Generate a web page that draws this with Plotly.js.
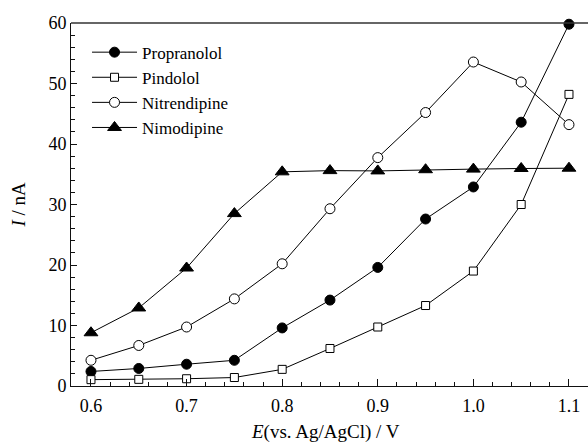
<!DOCTYPE html>
<html>
<head>
<meta charset="utf-8">
<script src="https://cdn.plot.ly/plotly-3.0.1.min.js"></script>
<style>html,body{margin:0;padding:0;background:#fff;}#chart{width:588px;height:444px;}</style>
</head>
<body>
<div id="chart"></div>
<script>
const potential = [0.6, 0.65, 0.7, 0.75, 0.8, 0.85, 0.9, 0.95, 1.0, 1.05, 1.1];
const propranolol = [2.4, 2.9, 3.6, 4.25, 9.6, 14.2, 19.6, 27.6, 32.9, 43.6, 59.8];
const pindolol = [1.05, 1.1, 1.2, 1.4, 2.75, 6.2, 9.75, 13.3, 19.0, 30.0, 48.2];
const nitrendipine = [4.25, 6.7, 9.75, 14.4, 20.2, 29.3, 37.75, 45.2, 53.55, 50.25, 43.2];
const nimodipine = [8.8, 12.9, 19.5, 28.5, 35.4, 35.6, 35.55, 35.75, 35.85, 35.95, 36.0];
const seriesNames = ["Propranolol", "Pindolol", "Nitrendipine", "Nimodipine"];
const xTickVals = [0.6, 0.7, 0.8, 0.9, 1.0, 1.1];
const xTickText = ["0.6", "0.7", "0.8", "0.9", "1.0", "1.1"];
const yTickVals = [0, 10, 20, 30, 40, 50, 60];
const xTitle = "<i>E</i>(vs. Ag/AgCl) / V";
const yTitle = "<i>I</i> / nA";

const FONT = "'Liberation Serif', 'Times New Roman', serif";

function tr(name, y, symbol, fill, size) {
  return {
    x: potential, y: y, name: name, type: "scatter", mode: "lines+markers",
    line: {color: "#000", width: 1},
    marker: {symbol: symbol, size: size, color: fill, line: {color: "#000", width: 1}},
    cliponaxis: false
  };
}
const data = [
  tr(seriesNames[0], propranolol, "circle", "#000", 10),
  tr(seriesNames[1], pindolol, "square", "#fff", 8),
  tr(seriesNames[2], nitrendipine, "circle", "#fff", 10),
  tr(seriesNames[3], nimodipine, "triangle-up", "#000", 12)
];
const layout = {
  width: 588, height: 444,
  margin: {l: 71, r: 0, t: 23, b: 58},
  paper_bgcolor: "#fff", plot_bgcolor: "#fff",
  font: {family: FONT, size: 18, color: "#000"},
  showlegend: true,
  legend: {x: 0.031, y: 0.968, xanchor: "left", yanchor: "top", itemwidth: 45,
           font: {family: FONT, size: 17, color: "#000"}, bgcolor: "rgba(0,0,0,0)"},
  xaxis: {
    range: [0.5791, 1.1199], showgrid: false, zeroline: false,
    showline: true, linecolor: "#111", linewidth: 1,
    ticks: "inside", ticklen: 7, tickwidth: 1, tickcolor: "#111",
    tickvals: xTickVals, ticktext: xTickText, ticklabelstandoff: 3,
    minor: {dtick: 0.02, ticks: "inside", ticklen: 4, tickcolor: "#111", tickwidth: 1},
    tickfont: {family: FONT, size: 18}
  },
  yaxis: {
    range: [0, 60], showgrid: false, zeroline: false,
    showline: true, linecolor: "#111", linewidth: 1,
    ticks: "inside", ticklen: 6, tickwidth: 1, tickcolor: "#111",
    tickvals: yTickVals,
    minor: {dtick: 2, ticks: "inside", ticklen: 4, tickcolor: "#111", tickwidth: 1},
    tickfont: {family: FONT, size: 18}
  },
  shapes: [{type: "line", xref: "paper", yref: "paper", x0: 0, x1: 1, y0: 1, y1: 1,
            line: {color: "#333", width: 1.5}}],
  annotations: [{
    text: xTitle, xref: "paper", yref: "paper",
    x: 0.493, y: -0.127, xanchor: "center", yanchor: "middle", showarrow: false,
    font: {family: FONT, size: 19}
  }, {
    text: yTitle, xref: "paper", yref: "paper", textangle: -90,
    x: -0.1025, y: 0.5, xanchor: "center", yanchor: "middle", showarrow: false,
    font: {family: FONT, size: 19}
  }]
};
Plotly.newPlot("chart", data, layout, {displayModeBar: false, staticPlot: true});
</script>
</body>
</html>
